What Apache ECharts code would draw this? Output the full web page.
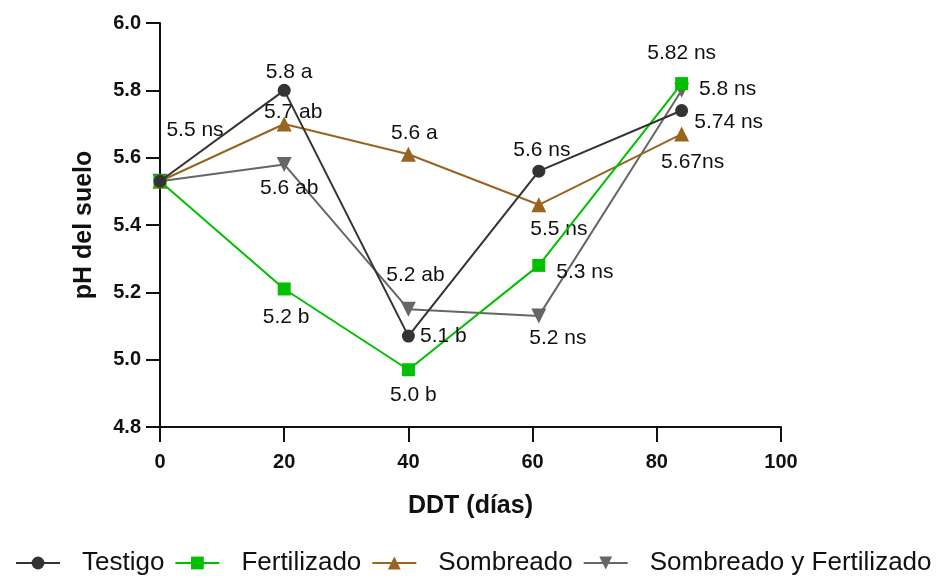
<!DOCTYPE html>
<html>
<head>
<meta charset="utf-8">
<script src="https://cdn.jsdelivr.net/npm/echarts@6/dist/echarts.min.js"></script>
<style>
  html, body { margin: 0; padding: 0; background: #ffffff; }
  #chart { width: 940px; height: 578px; }
</style>
</head>
<body>
<div id="chart"></div>
<script>
// ---- Data ----
const xDays = [0, 20, 40, 61, 84];
const seriesNames = ['Testigo', 'Fertilizado', 'Sombreado', 'Sombreado y Fertilizado'];
const testigo = [5.53, 5.80, 5.07, 5.56, 5.74];
const fertilizado = [5.53, 5.21, 4.97, 5.28, 5.82];
const sombreado = [5.53, 5.70, 5.61, 5.46, 5.67];
const sombFert = [5.53, 5.58, 5.15, 5.13, 5.80];
const labelsTestigo = ['5.5 ns', '5.8 a', '5.1 b', '5.6 ns', '5.74 ns'];
const labelsFert = ['', '5.2 b', '5.0 b', '5.3 ns', '5.82 ns'];
const labelsSomb = ['', '5.7 ab', '5.6 a', '5.5 ns', '5.67ns'];
const labelsSF = ['', '5.6 ab', '5.2 ab', '5.2 ns', '5.8 ns'];
const xTickValues = [0, 20, 40, 60, 80, 100];
const yTickValues = [4.8, 5.0, 5.2, 5.4, 5.6, 5.8, 6.0];

// ---- Styles / layout ----
const FONT = '"Liberation Sans", Arial, sans-serif';
const styles = [
  { color: '#333333', symbol: 'circle', size: 13, rotate: 0, z: 5 },
  { color: '#00c000', symbol: 'rect', size: 13, rotate: 0, z: 4 },
  { color: '#97651f', symbol: 'triangle', size: 15, rotate: 0, z: 3 },
  { color: '#666666', symbol: 'triangle', size: 15, rotate: 180, z: 2 }
];
const labelOffsets = [
  [[35, -51], [5, -18], [35, 0], [3, -21], [47, 12]],
  [[0, 0], [2, 28], [5, 25], [46, 7], [0, -30]],
  [[0, 0], [9, -12], [6, -21], [20, 24], [11, 28]],
  [[0, 0], [5, 24], [7, -34], [19, 22], [46, -1]]
];
const allValues = [testigo, fertilizado, sombreado, sombFert];
const allLabels = [labelsTestigo, labelsFert, labelsSomb, labelsSF];

const series = seriesNames.map((name, si) => {
  const st = styles[si];
  return {
    name: name,
    type: 'line',
    z: st.z,
    symbol: st.symbol,
    symbolSize: st.size,
    symbolRotate: st.rotate,
    showAllSymbol: true,
    lineStyle: { color: st.color, width: 2 },
    itemStyle: { color: st.color },
    emphasis: { disabled: true },
    animation: false,
    data: xDays.map((x, i) => {
      const txt = allLabels[si][i];
      return {
        value: [x, allValues[si][i]],
        label: {
          show: txt !== '',
          formatter: txt,
          position: 'inside',
          offset: labelOffsets[si][i],
          align: 'center',
          verticalAlign: 'middle',
          color: '#111111',
          fontSize: 21,
          fontFamily: FONT
        }
      };
    })
  };
});

const chart = echarts.init(document.getElementById('chart'), null, { renderer: 'canvas' });
chart.setOption({
  backgroundColor: '#ffffff',
  animation: false,
  grid: { left: 160, right: 159, top: 23, bottom: 151, containLabel: false },
  legend: {
    data: seriesNames,
    left: 10,
    top: 545,
    width: 928,
    itemWidth: 44,
    itemHeight: 16,
    itemGap: 10,
    textStyle: { fontSize: 26, fontFamily: FONT, color: '#111111', padding: [0, 0, 0, 17] }
  },
  xAxis: {
    type: 'value',
    min: xTickValues[0],
    max: xTickValues[xTickValues.length - 1],
    interval: 20,
    name: 'DDT (días)',
    nameLocation: 'middle',
    nameGap: 67,
    nameTextStyle: { fontSize: 25, fontWeight: 'bold', fontFamily: FONT, color: '#111111' },
    axisLine: { show: true, lineStyle: { color: '#111111', width: 2 } },
    axisTick: { show: true, length: 15, lineStyle: { color: '#111111', width: 2 } },
    axisLabel: { margin: 25, fontSize: 20, fontWeight: 'bold', fontFamily: FONT, color: '#111111' },
    splitLine: { show: false }
  },
  yAxis: {
    type: 'value',
    min: yTickValues[0],
    max: yTickValues[yTickValues.length - 1],
    interval: 0.2,
    name: 'pH del suelo',
    nameLocation: 'middle',
    nameGap: 63,
    nameTextStyle: { fontSize: 25, fontWeight: 'bold', fontFamily: FONT, color: '#111111' },
    axisLine: { show: true, lineStyle: { color: '#111111', width: 2 } },
    axisTick: { show: true, length: 14, lineStyle: { color: '#111111', width: 2 } },
    axisLabel: {
      margin: 19, fontSize: 20, fontWeight: 'bold', fontFamily: FONT, color: '#111111',
      formatter: v => v.toFixed(1)
    },
    splitLine: { show: false }
  },
  series: series
});
</script>
</body>
</html>
